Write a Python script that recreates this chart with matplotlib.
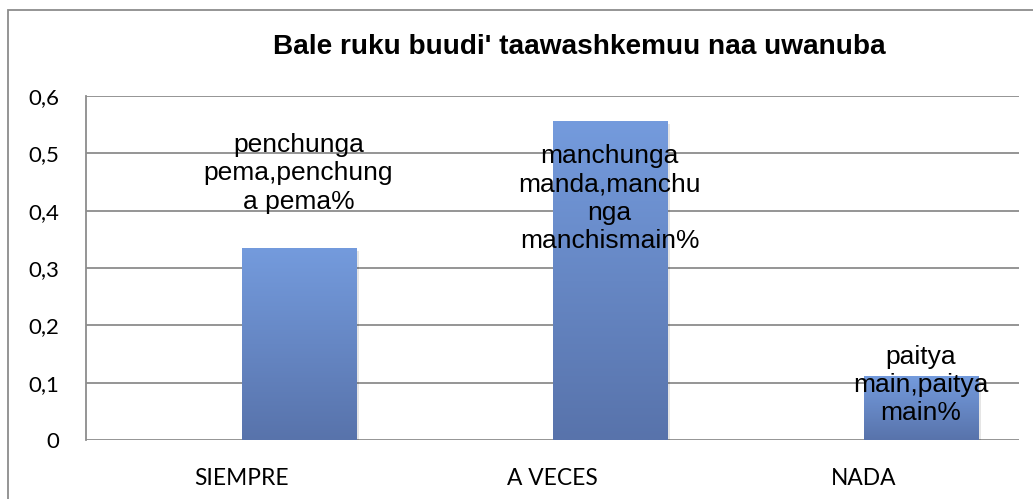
import numpy as np
import matplotlib
matplotlib.use("Agg")
import matplotlib.pyplot as plt
from matplotlib.patches import Rectangle

# data
categories = ["SIEMPRE", "A VECES", "NADA"]
values = [1 / 3, 5 / 9, 1 / 9]
bar_labels = [
    "penchunga\npema,penchung\na pema%",
    "manchunga\nmanda,manchu\nnga\nmanchismain%",
    "paitya\nmain,paitya\nmain%",
]
title = "Bale ruku buudi' taawashkemuu naa uwanuba"
yticks = [0, 0.1, 0.2, 0.3, 0.4, 0.5, 0.6]
ytick_labels = ["0", "0,1", "0,2", "0,3", "0,4", "0,5", "0,6"]

# label centre heights (layout, in data units)
label_y = [0.465, 0.421, 0.096]

fig = plt.figure(figsize=(10.33, 4.99), dpi=100)
ax = fig.add_axes([86 / 1033, 59 / 499, (1019 - 86) / 1033, (440 - 96) / 499])

# outer chart border
fig.patches.append(Rectangle((8 / 1033, -0.1), 1.2, 1.1 - 10 / 499,
                             transform=fig.transFigure, fill=False,
                             edgecolor="#8c8c8c", linewidth=1.3))

x = np.arange(len(categories))
bw = 0.367
grad = np.linspace(0, 1, 256).reshape(-1, 1)
top_c = np.array([0x74, 0x9b, 0xdd]) / 255
bot_c = np.array([0x58, 0x73, 0xab]) / 255
img = bot_c[None, None, :] * (1 - grad[..., None]) + top_c[None, None, :] * grad[..., None]

# first (empty) series slot sits left of centre, so bars start at the category centre
bars = ax.bar(x, values, width=bw, align="edge", color="none",
              edgecolor="none", zorder=3)
for b in bars:
    bx, by = b.get_x(), b.get_y()
    w, h = b.get_width(), b.get_height()
    # soft shadow
    ax.add_patch(Rectangle((bx + 0.01, by - 0.004), w, h, facecolor="#000000",
                           alpha=0.10, edgecolor="none", zorder=2.5))
    ax.imshow(img, extent=[bx, bx + w, by, by + h], origin="lower",
              aspect="auto", zorder=3)

for b, txt, ly in zip(bars, bar_labels, label_y):
    ax.text(b.get_x() + b.get_width() / 2, ly, txt, ha="center", va="center",
            fontsize=19, family="Liberation Sans", linespacing=1.22, zorder=5)

ax.set_xlim(-0.5, 2.5)
ax.set_ylim(0, 0.6)
ax.set_yticks(yticks)
ax.set_yticklabels(ytick_labels, family="Lato", fontsize=16)
ax.set_xticks(x)
ax.set_xticklabels(categories, family="Lato", fontsize=16.4)
ax.tick_params(axis="y", length=0, pad=19)
ax.tick_params(axis="x", length=0, pad=20)

ax.yaxis.grid(True, color="#8c8c8c", linewidth=1.3, zorder=1)
ax.set_axisbelow(True)
for s in ["top", "right", "bottom"]:
    ax.spines[s].set_visible(False)
ax.spines["left"].set_color("#8c8c8c")
ax.spines["left"].set_linewidth(1.3)

fig.text(579 / 1033, 1 - 47 / 499, title, ha="center", va="center",
         fontsize=20.2, fontweight="bold", family="Liberation Sans")

fig.savefig("out.png", dpi=100)
